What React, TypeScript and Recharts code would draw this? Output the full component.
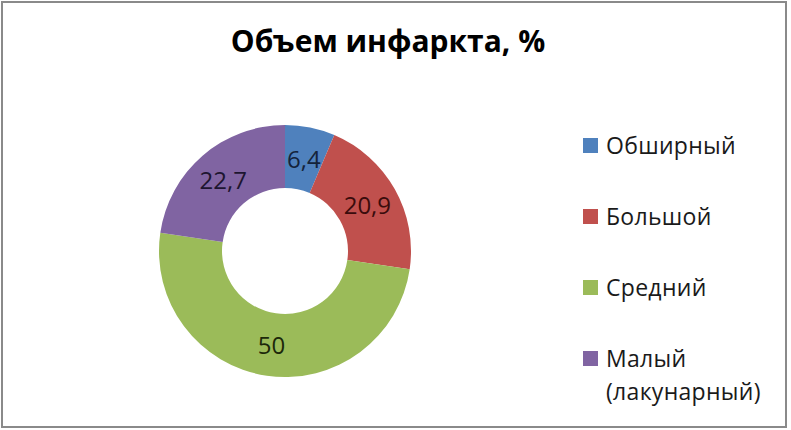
import { PieChart, Pie, Cell, Legend } from "recharts";

const categories = ["Обширный", "Большой", "Средний", "Малый (лакунарный)"];
const values = [6.4, 20.9, 50, 22.7];
const sliceColors = ["#4f81bd", "#c0504d", "#9bbb59", "#8064a2"];
const labelColors = ["#14233a", "#3a0c0c", "#1c280a", "#1d1530"];

const FONT = "'Open Sans', Lato, sans-serif";
const RADIAN = Math.PI / 180;

const data = categories.map((name, i) => ({ name, value: values[i] }));

const renderLabel = (props: any) => {
  const { cx, cy, midAngle, innerRadius, outerRadius, value, index } = props;
  const r = (innerRadius + outerRadius) / 2;
  const x = cx + r * Math.cos(-midAngle * RADIAN);
  const y = cy + r * Math.sin(-midAngle * RADIAN);
  return (
    <text
      x={x}
      y={y}
      fill={labelColors[index]}
      textAnchor="middle"
      dominantBaseline="central"
      fontFamily={FONT}
      fontSize={24}
    >
      {String(value).replace(".", ",")}
    </text>
  );
};

// keep the original category order (recharts sorts legend payload by default)
const renderLegend = () => (
  <div style={{ fontFamily: FONT, fontSize: 23, color: "#1a1a1a" }}>
    {categories.map((name, i) => (
      <div key={`legend-${i}`} style={{ display: "flex", alignItems: "flex-start", height: 71 }}>
        <span
          style={{
            display: "inline-block",
            width: 15,
            height: 15,
            marginTop: 9,
            marginRight: 8,
            background: sliceColors[i],
            flexShrink: 0,
          }}
        />
        <span style={{ lineHeight: "33px", maxWidth: 180, letterSpacing: 0.3 }}>{name}</span>
      </div>
    ))}
  </div>
);

export default function App() {
  return (
    <div style={{ position: "relative", width: 791, height: 430, background: "#fff", overflow: "hidden" }}>
      <style>{"body{margin:0}"}</style>
      <div
        style={{
          position: "absolute",
          left: 1,
          top: 1,
          width: 786,
          height: 427,
          boxSizing: "border-box",
          border: "2px solid #8a8a8a",
        }}
      />
      <div
        style={{
          position: "absolute",
          left: 0,
          top: 21,
          width: 776,
          textAlign: "center",
          fontFamily: FONT,
          fontWeight: 700,
          fontSize: 30,
          lineHeight: "40px",
          color: "#000",
        }}
      >
        Объем инфаркта, %
      </div>
      <PieChart
        width={791}
        height={430}
        margin={{ top: 0, right: 0, bottom: 0, left: 0 }}
        style={{ position: "absolute", left: 0, top: 0 }}
      >
        <Pie
          data={data}
          dataKey="value"
          nameKey="name"
          cx={285}
          cy={251}
          innerRadius={63}
          outerRadius={126}
          startAngle={90}
          endAngle={-270}
          stroke="none"
          labelLine={false}
          label={renderLabel}
          isAnimationActive={false}
        >
          {data.map((_, i) => (
            <Cell key={`cell-${i}`} fill={sliceColors[i]} />
          ))}
        </Pie>
        <Legend
          content={renderLegend}
          layout="vertical"
          wrapperStyle={{ position: "absolute", left: 583, top: 129, width: 205 }}
        />
      </PieChart>
    </div>
  );
}
